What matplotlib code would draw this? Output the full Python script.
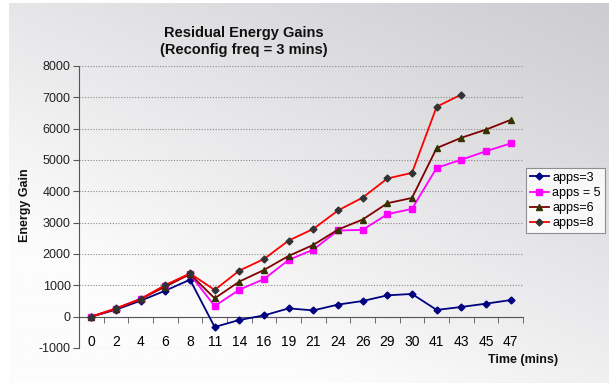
import matplotlib
matplotlib.use("Agg")
import matplotlib.pyplot as plt
import numpy as np
from matplotlib.ticker import FixedLocator, NullFormatter

plt.rcParams['font.family'] = ['Liberation Sans', 'DejaVu Sans']

categories = ["0", "2", "4", "6", "8", "11", "14", "16", "19", "21", "24", "26",
              "29", "30", "41", "43", "45", "47"]
apps3 = [0, 225, 510, 830, 1180, -330, -105, 40, 265, 200, 385, 500, 680, 725,
         215, 310, 415, 530]
apps5 = [0, 260, 570, 990, 1350, 340, 860, 1200, 1810, 2140, 2750, 2770, 3270,
         3440, 4750, 5010, 5280, 5530]
apps6 = [0, 250, 560, 960, 1360, 585, 1120, 1490, 1940, 2290, 2780, 3100, 3620,
         3790, 5380, 5710, 5970, 6280]
apps8 = [0, 265, 565, 1010, 1380, 853, 1470, 1840, 2430, 2800, 3390, 3800, 4410,
         4590, 6700, 7090]
yticks = [-1000, 0, 1000, 2000, 3000, 4000, 5000, 6000, 7000, 8000]

W, H = 609, 383
fig = plt.figure(figsize=(W / 100, H / 100), dpi=100)
fig.patch.set_facecolor('white')

# background gradient panel
bg = fig.add_axes([9 / W, 0, 1 - 9 / W, 1 - 3 / H], zorder=0)
bg.set_axis_off()
nx, ny = 200, 120
gx = np.linspace(0, 1, nx)[None, :]
gy = np.linspace(0, 1, ny)[:, None]  # 0 = top
t = np.clip(0.55 * (1 - gx) + 0.75 * gy, 0, 1)
top_right = np.array([204, 204, 209]) / 255
bottom_left = np.array([252, 252, 252]) / 255
img = top_right[None, None, :] + (bottom_left - top_right)[None, None, :] * t[:, :, None]
bg.imshow(img, aspect='auto', extent=[0, 1, 0, 1], interpolation='bilinear')
bg.set_xlim(0, 1)
bg.set_ylim(0, 1)

left, right = 79 / W, 523 / W
top, bottom = 1 - 66 / H, 1 - 348 / H
ax = fig.add_axes([left, bottom, right - left, top - bottom], zorder=1)
ax.set_facecolor('none')

x = np.arange(len(categories))
ax.plot(x, apps3, color='#000080', marker='D', markersize=3.5, lw=1.3,
        markerfacecolor='#000080', markeredgecolor='#000080', label='apps=3', zorder=3)
ax.plot(x, apps5, color='#FF00FF', marker='s', markersize=5, lw=1.3,
        markerfacecolor='#FF00FF', markeredgecolor='#FF00FF', label='apps = 5', zorder=3)
ax.plot(x, apps6, color='#800000', marker='^', markersize=5, lw=1.3,
        markerfacecolor='#333300', markeredgecolor='#333300', label='apps=6', zorder=3)
ax.plot(x[:len(apps8)], apps8, color='#FF0000', marker='D', markersize=3.5, lw=1.3,
        markerfacecolor='#333333', markeredgecolor='#333333', label='apps=8', zorder=4)

ax.set_xlim(-0.5, len(categories) - 0.5)
ax.set_ylim(-1000, 8000)
ax.set_yticks(yticks)
ax.set_yticklabels([str(v) for v in yticks], fontsize=9, color='#222222')
ax.yaxis.grid(True, linestyle=(0, (1, 1.5)), color='#888888', lw=0.8)
ax.set_axisbelow(True)

ax.set_xticks(x)
ax.set_xticklabels(categories, fontsize=9, color='#222222')
ax.xaxis.set_minor_locator(FixedLocator(np.arange(-0.5, len(categories), 1.0)))
ax.xaxis.set_minor_formatter(NullFormatter())
ax.tick_params(axis='x', which='major', length=0, pad=13)
ax.tick_params(axis='x', which='minor', length=4, direction='out', color='#555555')
ax.tick_params(axis='y', length=4, direction='out', color='#555555', pad=2)

ax.spines['bottom'].set_position(('data', 0))
ax.spines['top'].set_visible(False)
ax.spines['right'].set_visible(False)
ax.spines['left'].set_color('#555555')
ax.spines['bottom'].set_color('#555555')

fig.text(244 / W, 1 - 33 / H, "Residual Energy Gains", ha='center', va='center',
         fontsize=10.5, fontweight='bold', color='#111111')
fig.text(244 / W, 1 - 50 / H, "(Reconfig freq = 3 mins)", ha='center', va='center',
         fontsize=10.5, fontweight='bold', color='#111111')
fig.text(25 / W, 1 - 205 / H, "Energy Gain", rotation=90, ha='center', va='center',
         fontsize=9, fontweight='bold', color='#111111')
fig.text(488 / W, 1 - 360 / H, "Time (mins)", ha='left', va='center',
         fontsize=9, fontweight='bold', color='#111111')

leg = ax.legend(loc='upper left', bbox_to_anchor=(526 / W, 1 - 168 / H),
                bbox_transform=fig.transFigure, frameon=True, fancybox=False,
                fontsize=9, handlelength=1.5, handletextpad=0.3, borderpad=0.3,
                labelspacing=0.25, borderaxespad=0)
leg.get_frame().set_edgecolor('#777777')
leg.get_frame().set_linewidth(0.8)
leg.get_frame().set_facecolor('white')

fig.savefig('out.png', dpi=100)
